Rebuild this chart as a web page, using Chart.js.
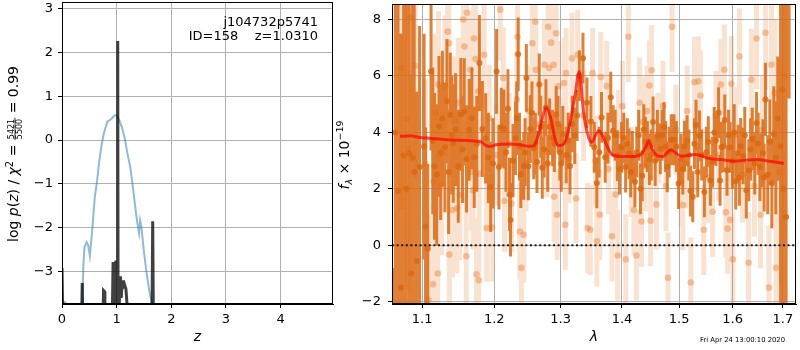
<!DOCTYPE html>
<html>
<head>
<meta charset="utf-8">
<script src="https://cdn.jsdelivr.net/npm/chart.js@4.4.1/dist/chart.umd.min.js"></script>
<style>
  html, body { margin: 0; padding: 0; background: #fff; }
  #wrap { position: relative; width: 800px; height: 350px; }
  canvas { position: absolute; top: 0; }
  #pz { left: 0; }
  #spec { left: 335px; }
</style>
</head>
<body>
<div id="wrap">
  <canvas id="pz" width="335" height="350"></canvas>
  <canvas id="spec" width="465" height="350"></canvas>
</div>
<script>
// ---- left panel: redshift fit ----
const fieldName = "j104732p5741"
const objId = 158
const zBest = "1.0310"
const zTicks = [0, 1, 2, 3, 4]
const logpTicks = [-3, -2, -1, 0, 1, 2, 3]

// chi2 curve (dark), clipped below the axis
const chiZ = [0, 0.02, 0.355, 0.37, 0.385, 0.745, 0.76, 0.775, 0.785, 0.915,
  0.935, 0.95, 0.965, 0.975, 0.985, 1.0, 1.013, 1.02, 1.027, 1.04,
  1.06, 1.07, 1.085, 1.1, 1.115, 1.14, 1.17, 1.2, 1.22, 1.645,
  1.66, 1.675]
const chiVal = [-2.92, -4.5, -4.5, -3.26, -4.5, -4.5, -3.43, -3.45, -4.5, -4.5,
  -2.78, -4.2, -2.85, -3.6, -2.75, -4.5, -4.5, 2.26, -4.5, -4.5,
  -3.3, -3.11, -3.6, -3.2, -3.35, -3.28, -3.4, -3.9, -4.5, -4.5,
  -1.85, -4.5]

// log p(z) curve (blue)
const pzZ = [0, 0.04, 0.08, 0.09, 0.365, 0.375, 0.39, 0.41, 0.45,
  0.48, 0.51, 0.55, 0.6, 0.64, 0.68, 0.72, 0.76, 0.8, 0.83,
  0.88, 0.92, 0.96, 1.0, 1.05, 1.1, 1.15, 1.2, 1.25, 1.3,
  1.35, 1.38, 1.41, 1.43, 1.45, 1.5, 1.55, 1.6, 1.65, 1.67]
const pzLog = [-3.68, -3.69, -3.72, null, -4.0, -3.6, -2.9, -2.45, -2.33,
  -2.4, -2.64, -2.1, -1.3, -0.95, -0.5, -0.15, 0.12, 0.3, 0.42,
  0.46, 0.5, 0.56, 0.57, 0.45, 0.28, 0.03, -0.32, -0.62, -1.1,
  -1.62, -1.9, -2.12, -1.83, -1.95, -2.55, -3.05, -3.45, -3.75, -4.2]

// ---- right panel: spectrum ----
const lamTicks = [1.1, 1.2, 1.3, 1.4, 1.5, 1.6, 1.7]
const fluxTicks = [-2, 0, 2, 4, 6, 8]
const timeStamp = "Fri Apr 24 13:00:10 2020"

const darkWave = [
  1.0627, 1.0685, 1.0757, 1.0830, 1.0874, 1.0895, 1.0930, 1.0966, 1.1026, 1.1045,
  1.1075, 1.1119, 1.1165, 1.1226, 1.1272, 1.1307, 1.1334, 1.1380, 1.1421, 1.1453,
  1.1526, 1.1573, 1.1605, 1.1643, 1.1713, 1.1787, 1.1829, 1.1876, 1.1915, 1.1948,
  1.2034, 1.2068, 1.2102, 1.2141, 1.2200, 1.2223, 1.2238, 1.2311, 1.2351, 1.2391,
  1.2435, 1.2474, 1.2534, 1.2585, 1.2635, 1.2670, 1.2716, 1.2772, 1.2829, 1.2875,
  1.2931, 1.2988, 1.3035, 1.3089, 1.3149, 1.3224, 1.3298, 1.3356, 1.3420, 1.3484,
  1.3539, 1.3581, 1.3658, 1.3719, 1.3765, 1.3811, 1.3851, 1.3922, 1.3994, 1.4061,
  1.4119, 1.4175, 1.4220, 1.4285, 1.4345, 1.4402, 1.4471, 1.4535, 1.4610, 1.4663,
  1.4728, 1.4786, 1.4857, 1.4905, 1.4989, 1.5036, 1.5097, 1.5144, 1.5206, 1.5248,
  1.5308, 1.5371, 1.5414, 1.5463, 1.5537, 1.5617, 1.5679, 1.5730, 1.5787, 1.5849,
  1.5891, 1.5952, 1.5997, 1.6059, 1.6105, 1.6156, 1.6202, 1.6266, 1.6315, 1.6383,
  1.6432, 1.6468, 1.6535, 1.6595, 1.6646, 1.6692, 1.6734, 1.6815, 1.6895, 1.6952,
  1.7014, 1.7066, 1.7127, 1.0650, 1.0720, 1.0790, 1.0855, 1.1142, 1.1195, 1.1249,
  1.1357, 1.1400, 1.1490, 1.1550, 1.1680, 1.1750, 1.1981, 1.2171, 1.2275, 1.2330,
  1.2371, 1.2455, 1.2504, 1.2559, 1.2610, 1.2693, 1.2744, 1.2800, 1.2903, 1.2960,
  1.3010, 1.3119, 1.3185, 1.3262, 1.3620, 1.3885, 1.3958, 1.4030, 1.4090, 1.4148,
  1.4252, 1.4315, 1.4373, 1.4435, 1.4503, 1.4572, 1.4695, 1.4757, 1.4820, 1.4950,
  1.5066, 1.5176, 1.5278, 1.5340, 1.5500, 1.5577, 1.5648, 1.5758, 1.5818, 1.5921,
  1.6030, 1.6130, 1.6236, 1.6350, 1.6500, 1.6620, 1.6775, 1.6855, 1.6990]
const darkFlux = [
  -3.00, 1.92, 3.18, 3.25, 3.10, 2.60, -0.56, 2.77, 3.50, 0.67,
  -0.12, 6.16, 2.80, 4.21, 4.49, 3.47, 5.11, 4.62, 3.61, 4.10,
  4.64, 4.73, 3.06, 4.09, 3.12, 6.46, 4.12, 3.79, 3.10, 2.07,
  6.16, 2.77, 4.18, 4.12, 4.84, 1.80, 0.90, 3.79, 6.77, 2.52,
  2.81, 5.93, 4.12, 3.44, 2.95, 5.70, 2.75, 4.88, 4.20, 3.80,
  4.64, 3.30, 3.94, 3.20, 2.81, 3.88, 6.01, 6.63, 5.05, 4.39,
  3.47, 2.21, 4.53, 3.12, 3.80, 5.25, 4.06, 3.18, 3.47, 2.77,
  3.24, 3.15, 2.25, 3.90, 2.46, 3.65, 3.04, 4.37, 3.89, 3.42,
  4.18, 2.78, 3.74, 3.74, 2.19, 3.06, 3.51, 3.71, 1.92, 1.72,
  4.26, 3.88, 3.20, 1.89, 3.67, 2.95, 3.71, 4.70, 3.47, 4.44,
  2.66, 3.47, 3.00, 2.27, 3.27, 3.51, 3.16, 1.95, 2.66, 3.77,
  2.90, 4.33, 2.77, 3.27, 5.17, 2.50, 3.67, 3.94, 4.49, 3.50,
  2.00, 1.00, 9.00, 4.00, -1.50, 2.00, -1.00, 3.70, 2.50, 3.30,
  2.60, 3.90, 2.80, 3.40, 4.50, 3.60, 2.90, 3.30, 3.00, 4.50,
  3.50, 3.30, 2.80, 4.70, 3.60, 4.20, 3.40, 2.90, 3.60, 4.30,
  2.90, 3.70, 4.30, 4.60, 3.30, 3.90, 2.70, 3.80, 3.60, 2.60,
  3.30, 2.00, 4.10, 3.50, 3.20, 3.00, 3.90, 3.50, 3.30, 3.50,
  2.70, 3.20, 3.60, 2.60, 3.30, 2.30, 4.00, 2.30, 3.50, 3.90,
  4.00, 2.40, 3.90, 3.40, 3.60, 2.40, 2.20, 3.10, 5.50]
const darkErr = [
  2.2, 10, 9, 8, 7, 6, 6, 5, 4, 3.5,
  3.0, 2.8, 2.6, 2.5, 2.4, 2.3, 2.2, 2.2, 2.1, 2.0,
  2.0, 1.9, 1.9, 1.8, 1.8, 1.7, 1.7, 1.6, 1.6, 1.6,
  1.5, 1.5, 1.4, 1.4, 1.4, 1.3, 1.3, 1.3, 1.3, 1.2,
  1.2, 1.2, 1.2, 1.1, 1.1, 1.1, 1.1, 1.0, 1.0, 1.0,
  1.0, 1.0, 1.0, 1.0, 1.0, 1.0, 0.9, 0.9, 0.9, 0.9,
  0.9, 0.9, 0.9, 0.9, 0.9, 0.9, 0.9, 0.9, 0.9, 0.9,
  0.9, 0.9, 0.9, 0.9, 0.9, 0.9, 0.9, 0.9, 0.9, 0.9,
  0.9, 0.9, 0.9, 0.9, 0.9, 0.9, 0.9, 0.9, 0.9, 0.9,
  0.9, 0.9, 0.9, 0.9, 0.9, 0.9, 0.9, 0.9, 0.9, 0.9,
  0.9, 0.9, 1.0, 1.0, 1.0, 1.0, 1.0, 1.0, 1.1, 1.1,
  1.1, 1.1, 1.2, 1.2, 1.3, 1.4, 1.5, 1.7, 2.2, 7,
  9, 10, 3.8, 10, 9, 8, 7, 2.6, 2.5, 2.4,
  2.2, 2.1, 2.0, 1.9, 1.8, 1.7, 1.6, 1.4, 1.3, 1.3,
  1.2, 1.2, 1.2, 1.1, 1.1, 1.1, 1.0, 1.0, 1.0, 1.0,
  1.0, 1.0, 1.0, 0.9, 0.9, 0.9, 0.9, 0.9, 0.9, 0.9,
  0.9, 0.9, 0.9, 0.9, 0.9, 0.9, 0.9, 0.9, 0.9, 0.9,
  0.9, 0.9, 0.9, 0.9, 0.9, 0.9, 0.9, 0.9, 0.9, 0.9,
  1.0, 1.0, 1.0, 1.1, 1.1, 1.2, 1.6, 2.0, 9]

const lightWave = [
  1.0727, 1.0800, 1.0817, 1.0843, 1.0908, 1.1040, 1.1085, 1.1146, 1.1151, 1.1173,
  1.1209, 1.1218, 1.1236, 1.1263, 1.1307, 1.1344, 1.1361, 1.1366, 1.1408, 1.1439,
  1.1471, 1.1490, 1.1512, 1.1559, 1.1577, 1.1601, 1.1610, 1.1647, 1.1660, 1.1675,
  1.1698, 1.1710, 1.1731, 1.1745, 1.1770, 1.1777, 1.1783, 1.1853, 1.1890, 1.1929,
  1.1968, 1.2029, 1.2087, 1.2131, 1.2150, 1.2218, 1.2252, 1.2331, 1.2342, 1.2376,
  1.2400, 1.2435, 1.2470, 1.2510, 1.2564, 1.2609, 1.2620, 1.2665, 1.2752, 1.2787,
  1.2807, 1.2822, 1.2853, 1.2890, 1.2899, 1.2930, 1.2946, 1.2967, 1.3019, 1.3055,
  1.3074, 1.3086, 1.3128, 1.3180, 1.3244, 1.3271, 1.3366, 1.3431, 1.3474, 1.3511,
  1.3560, 1.3581, 1.3630, 1.3646, 1.3745, 1.3773, 1.3831, 1.3894, 1.3927, 1.3939,
  1.4006, 1.4064, 1.4107, 1.4157, 1.4203, 1.4246, 1.4299, 1.4333, 1.4357, 1.4397,
  1.4431, 1.4471, 1.4492, 1.4510, 1.4593, 1.4623, 1.4710, 1.4763, 1.4799, 1.4873,
  1.4941, 1.5036, 1.5067, 1.5121, 1.5145, 1.5212, 1.5280, 1.5322, 1.5353, 1.5390,
  1.5451, 1.5544, 1.5618, 1.5680, 1.5731, 1.5774, 1.5839, 1.5869, 1.5901, 1.5953,
  1.5975, 1.6003, 1.6054, 1.6132, 1.6190, 1.6310, 1.6365, 1.6424, 1.6467, 1.6548,
  1.6582, 1.6648, 1.6716, 1.6768, 1.6836, 1.6862, 1.6923, 1.7031]
const lightFlux = [
  6.28, 4.47, 3.41, 8.09, 6.36, 2.89, -1.94, -1.38, 2.25, 4.70,
  -1.00, 5.70, 3.20, 2.15, 5.64, 7.57, 7.16, -0.33, 1.25, 4.40,
  1.31, 5.05, 1.78, 8.00, 7.04, -0.39, 8.24, 3.90, 6.22, 2.60,
  1.95, 7.33, 6.60, -1.03, 5.46, -1.24, 2.54, 6.75, 0.61, 4.50,
  0.63, 3.20, 8.35, 5.93, 1.57, 3.60, 1.48, 5.17, 7.39, 0.49,
  -0.80, 0.37, 2.90, 4.76, 7.16, 7.92, 6.22, 4.30, 6.40, 3.30,
  7.74, 6.28, 7.18, 6.40, 1.72, 7.51, 1.08, 5.64, 3.65, 5.75,
  0.73, 6.10, 3.10, 6.63, 1.66, 6.75, 4.60, 0.61, 0.55, 6.10,
  3.00, 0.14, 1.08, 5.96, 5.64, 2.70, 0.32, 1.80, -0.36, 3.90,
  4.93, -0.50, 7.39, 2.60, 1.25, -0.36, 5.05, 0.84, 4.37, 2.80,
  4.76, 5.66, 0.87, 6.20, 1.45, 3.80, 4.93, 2.10, -1.15, 7.74,
  4.10, 2.25, 1.43, 2.90, 4.76, -1.32, 5.78, 3.50, 5.81, 5.31,
  0.55, 2.40, 1.19, 4.58, 3.20, 5.70, 6.22, 1.17, 0.59, 0.90,
  5.72, -0.50, 3.90, 6.69, 2.50, -0.62, 5.87, 2.10, 7.33, 1.08,
  4.10, 7.53, -1.50, 6.40, 5.40, -0.80, 2.60, 6.01]
const lightErr = [
  5, 5, 5, 4, 4, 3, 3, 2.8, 2.8, 2.8,
  2.6, 2.6, 2.6, 2.5, 2.5, 2.5, 2.4, 2.4, 2.4, 2.3,
  2.3, 2.3, 2.3, 2.2, 2.2, 2.2, 2.2, 2.1, 2.1, 2.1,
  2.1, 2.0, 2.0, 2.0, 2.0, 2.0, 2.0, 1.9, 1.9, 1.9,
  1.9, 1.8, 1.8, 1.8, 1.8, 1.8, 1.7, 1.7, 1.7, 1.7,
  1.7, 1.7, 1.7, 1.6, 1.6, 1.6, 1.6, 1.6, 1.6, 1.6,
  1.6, 1.6, 1.6, 1.6, 1.6, 1.6, 1.6, 1.6, 1.6, 1.6,
  1.6, 1.6, 1.6, 1.6, 1.6, 1.6, 1.6, 1.6, 1.6, 1.6,
  1.6, 1.6, 1.6, 1.6, 1.6, 1.6, 1.6, 1.6, 1.6, 1.6,
  1.6, 1.6, 1.6, 1.6, 1.6, 1.6, 1.6, 1.6, 1.6, 1.6,
  1.6, 1.6, 1.6, 1.6, 1.6, 1.6, 1.6, 1.6, 1.6, 1.6,
  1.6, 1.6, 1.6, 1.6, 1.6, 1.6, 1.6, 1.6, 1.6, 1.6,
  1.6, 1.6, 1.6, 1.6, 1.6, 1.6, 1.6, 1.6, 1.6, 1.6,
  1.7, 1.7, 1.7, 1.7, 1.7, 1.8, 1.8, 1.8, 1.8, 1.9,
  1.9, 2.0, 2.2, 2.4, 2.6, 2.8, 4.0, 6.0]

// best-fit model (red)
const modelWave = [1.0710, 1.0839, 1.0970, 1.1102, 1.1326, 1.1554, 1.1811, 1.1882, 1.1953, 1.2025,
  1.2218, 1.2365, 1.2514, 1.2590, 1.2665, 1.2741, 1.2777, 1.2844, 1.2921, 1.2972,
  1.3050, 1.3129, 1.3234, 1.3295, 1.3330, 1.3366, 1.3447, 1.3500, 1.3555, 1.3620,
  1.3674, 1.3773, 1.3855, 1.3994, 1.4220, 1.4333, 1.4419, 1.4461, 1.4518, 1.4623,
  1.4711, 1.4799, 1.4858, 1.4918, 1.5037, 1.5158, 1.5280, 1.5401, 1.5525, 1.5775,
  1.6030, 1.6287, 1.6483, 1.6682, 1.7019]
const modelFlux = [3.86, 3.88, 3.82, 3.79, 3.74, 3.72, 3.67, 3.53, 3.50, 3.56,
  3.59, 3.57, 3.51, 3.53, 4.00, 4.70, 4.88, 4.53, 3.71, 3.53,
  3.59, 4.12, 5.40, 6.15, 5.60, 4.70, 3.82, 3.65, 3.88, 4.06,
  3.88, 3.41, 3.18, 3.15, 3.15, 3.24, 3.53, 3.71, 3.41, 3.16,
  3.15, 3.32, 3.39, 3.30, 3.16, 3.18, 3.22, 3.18, 3.09, 3.04,
  2.98, 3.02, 3.04, 2.99, 2.90]

const FONT = "DejaVu Sans"
Chart.defaults.font.family = FONT
Chart.defaults.font.size = 13
Chart.defaults.color = "#000"

const DARK = "rgba(220,104,18,0.85)"
const LIGHT_BAR = "rgba(232,125,45,0.22)"
const LIGHT_DOT = "rgba(232,125,45,0.42)"

const minus = (v) => String(v).replace("-", "\u2212")

// vertical error bars as one broken line: lo, hi, gap
const barPoints = (w, f, e) => {
  const pts = []
  w.forEach((x, i) => {
    pts.push({ x: x, y: f[i] - e[i] }, { x: x, y: f[i] + e[i] }, { x: x, y: null })
  })
  return pts
}

// keep the plot box where the reference has it
const fixX = (s) => { s.height = 46; s.paddingLeft = 0; s.paddingRight = 0 }
const fixY = (w) => (s) => { s.width = w; s.paddingTop = 0; s.paddingBottom = 0 }

const drawFrame = (chart) => {
  const { ctx, chartArea: a } = chart
  ctx.save()
  ctx.strokeStyle = "#000"
  ctx.lineWidth = 1
  ctx.strokeRect(Math.round(a.left) + 0.5, Math.round(a.top) + 0.5,
    Math.round(a.right) - Math.round(a.left) - 1, Math.round(a.bottom) - Math.round(a.top) - 1)
  ctx.restore()
}

// rotated label built from pieces (mathtext-like)
const drawVertical = (ctx, cx, cy, pieces) => {
  ctx.save()
  ctx.translate(cx, cy)
  ctx.rotate(-Math.PI / 2)
  ctx.fillStyle = "#000"
  ctx.textAlign = "left"
  ctx.textBaseline = "alphabetic"
  let total = 0
  pieces.forEach((p) => {
    ctx.font = p.font
    p.w = p.frac
      ? Math.max(ctx.measureText(p.num).width, ctx.measureText(p.den).width) + 2
      : ctx.measureText(p.text).width
    total += p.w
  })
  let x = -total / 2
  pieces.forEach((p) => {
    ctx.font = p.font
    if (p.frac) {
      const nw = ctx.measureText(p.num).width
      const dw = ctx.measureText(p.den).width
      ctx.fillText(p.num, x + (p.w - nw) / 2, p.bar - 1.3)
      ctx.fillText(p.den, x + (p.w - dw) / 2, p.bar + 1.3 + p.cap)
      ctx.fillRect(x, p.bar - 0.4, p.w, 0.8)
    } else {
      ctx.fillText(p.text, x, p.dy || 0)
    }
    x += p.w
  })
  ctx.restore()
}

const leftDeco = {
  id: "leftDeco",
  afterDraw(chart) {
    drawFrame(chart)
    const ctx = chart.ctx
    ctx.save()
    ctx.fillStyle = "#000"
    ctx.font = `13px "${FONT}"`
    ctx.textAlign = "right"
    ctx.fillText(fieldName, 318, 26)
    ctx.fillText(`ID=${objId}    z=${zBest}`, 318, 40)
    ctx.restore()
    const n = `14px "${FONT}"`
    const it = `italic 14px "${FONT}"`
    drawVertical(ctx, 18, 154, [
      { text: "log ", font: n },
      { text: "p", font: it },
      { text: "(", font: n },
      { text: "z", font: it },
      { text: ") / ", font: n },
      { text: "\u03c7", font: it },
      { text: "2", font: `10px "${FONT}"`, dy: -5.5 },
      { text: " = ", font: n },
      { frac: true, num: "5421", den: "5500", font: `8px "${FONT}"`, bar: -3, cap: 5.8 },
      { text: " = 0.99", font: n },
    ])
  },
}

const rightDeco = {
  id: "rightDeco",
  afterDraw(chart) {
    drawFrame(chart)
    const ctx = chart.ctx
    drawVertical(ctx, 14, 155, [
      { text: "f", font: `italic 14px "${FONT}"` },
      { text: "\u03bb", font: `italic 9.5px "${FONT}"`, dy: 3 },
      { text: " \u00d7 10", font: `14px "${FONT}"` },
      { text: "\u221219", font: `9.5px "${FONT}"`, dy: -6 },
    ])
    ctx.save()
    ctx.fillStyle = "#000"
    ctx.font = `6.8px "${FONT}"`
    ctx.textAlign = "left"
    ctx.fillText(timeStamp, 365, 342)
    ctx.restore()
  },
}

const gridOpts = { color: "#b0b0b0", lineWidth: 1, tickColor: "#000", tickLength: 4, drawTicks: true }

new Chart(document.getElementById("pz"), {
  type: "line",
  data: {
    datasets: [
      {
        label: "chi2",
        data: chiZ.map((z, i) => ({ x: z, y: chiVal[i] })),
        borderColor: "rgba(0,0,0,0.75)",
        borderWidth: 3,
        pointRadius: 0,
        clip: 0,
      },
      {
        label: "pz",
        data: pzZ.map((z, i) => ({ x: z, y: pzLog[i] })),
        borderColor: "rgba(31,119,180,0.5)",
        borderWidth: 2,
        pointRadius: 0,
        clip: 0,
      },
    ],
  },
  options: {
    responsive: false,
    animation: false,
    devicePixelRatio: 1,
    layout: { padding: { left: 0, right: 2, top: 2, bottom: 0 } },
    plugins: { legend: { display: false }, tooltip: { enabled: false } },
    scales: {
      x: {
        type: "linear",
        min: 0,
        max: 4.96,
        afterBuildTicks: (s) => { s.ticks = zTicks.map((v) => ({ value: v })) },
        afterFit: fixX,
        ticks: { callback: (v) => minus(v), padding: 4, maxRotation: 0, autoSkip: false },
        grid: gridOpts,
        border: { color: "#000", width: 1 },
        title: { display: true, text: "z", font: { size: 14, style: "italic" }, padding: { top: 0, bottom: 4 } },
      },
      y: {
        type: "linear",
        min: -3.74,
        max: 3.15,
        afterBuildTicks: (s) => { s.ticks = logpTicks.map((v) => ({ value: v })) },
        afterFit: fixY(62),
        ticks: { callback: (v) => minus(v), padding: 5, autoSkip: false },
        grid: gridOpts,
        border: { color: "#000", width: 1 },
      },
    },
  },
  plugins: [leftDeco],
})

new Chart(document.getElementById("spec"), {
  type: "line",
  data: {
    datasets: [
      {
        label: "zero",
        data: [{ x: 1.0607, y: 0 }, { x: 1.7271, y: 0 }],
        borderColor: "rgba(0,0,0,0.85)",
        borderWidth: 2,
        borderDash: [2, 2.6],
        pointRadius: 0,
        clip: 0,
      },
      {
        label: "model",
        data: modelWave.map((w, i) => ({ x: w, y: modelFlux[i] })),
        borderColor: "rgba(255,0,0,0.7)",
        borderWidth: 3,
        cubicInterpolationMode: "monotone",
        pointRadius: 0,
        clip: 0,
      },
      {
        label: "data",
        data: darkWave.map((w, i) => ({ x: w, y: darkFlux[i] })),
        showLine: false,
        pointRadius: 3,
        pointBorderWidth: 0,
        pointBackgroundColor: DARK,
        clip: 0,
      },
      {
        label: "data err",
        data: barPoints(darkWave, darkFlux, darkErr),
        borderColor: DARK,
        borderWidth: 3,
        borderCapStyle: "butt",
        pointRadius: 0,
        clip: 0,
      },
      {
        label: "beam",
        data: lightWave.map((w, i) => ({ x: w, y: lightFlux[i] })),
        showLine: false,
        pointRadius: 3.3,
        pointBorderWidth: 0,
        pointBackgroundColor: LIGHT_DOT,
        clip: 0,
      },
      {
        label: "beam err",
        data: barPoints(lightWave, lightFlux, lightErr),
        borderColor: LIGHT_BAR,
        borderWidth: 5,
        borderCapStyle: "butt",
        pointRadius: 0,
        clip: 0,
      },
    ],
  },
  options: {
    responsive: false,
    animation: false,
    devicePixelRatio: 1,
    layout: { padding: { left: 0, right: 1, top: 2, bottom: 0 } },
    plugins: { legend: { display: false }, tooltip: { enabled: false } },
    scales: {
      x: {
        type: "logarithmic",
        min: 1.0607,
        max: 1.7271,
        afterBuildTicks: (s) => { s.ticks = lamTicks.map((v) => ({ value: v })) },
        afterFit: fixX,
        ticks: { callback: (v) => Number(v).toFixed(1), padding: 4, maxRotation: 0, autoSkip: false },
        grid: gridOpts,
        border: { color: "#000", width: 1 },
        title: { display: true, text: "\u03bb", font: { size: 14, style: "italic" }, padding: { top: 0, bottom: 4 } },
      },
      y: {
        type: "linear",
        min: -2.08,
        max: 8.55,
        afterBuildTicks: (s) => { s.ticks = fluxTicks.map((v) => ({ value: v })) },
        afterFit: fixY(57),
        ticks: { callback: (v) => minus(v), padding: 7, autoSkip: false },
        grid: gridOpts,
        border: { color: "#000", width: 1 },
      },
    },
  },
  plugins: [rightDeco],
})
</script>
</body>
</html>
